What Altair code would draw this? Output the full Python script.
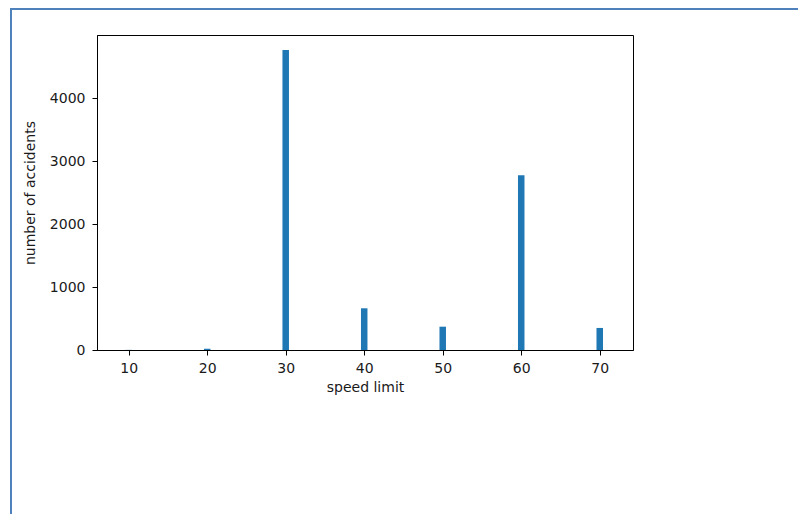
import altair as alt
import pandas as pd

speed_limits = [10, 20, 30, 40, 50, 60, 70]
accidents = [2, 20, 4760, 662, 370, 2773, 350]

x_ticks = [10, 20, 30, 40, 50, 60, 70]
y_ticks = [0, 1000, 2000, 3000, 4000]

df = pd.DataFrame({"speed": speed_limits, "count": accidents})

W, H = 536, 315
PAD = {"left": 89, "top": 27, "right": 165, "bottom": 164}

axis_common = dict(
    domainColor="#000000", tickColor="#000000", labelColor="#1a1a1a",
    titleColor="#1a1a1a", labelFont="DejaVu Sans", titleFont="DejaVu Sans",
    labelFontSize=14, titleFontSize=14, titleFontWeight="normal",
    tickSize=5, grid=False, domainWidth=1, format="d",
)

bars = alt.Chart(df).mark_bar(size=6.5, color="#1f77b4").encode(
    x=alt.X("speed:Q", scale=alt.Scale(domain=[6.6, 73.6], nice=False, zero=False),
            axis=alt.Axis(values=x_ticks, title="speed limit", labelPadding=6,
                          titlePadding=5, **axis_common)),
    y=alt.Y("count:Q", scale=alt.Scale(domain=[0, 5000], nice=False),
            axis=alt.Axis(values=y_ticks, title="number of accidents", labelPadding=7,
                          titlePadding=12, **axis_common)),
)

frame_df = pd.DataFrame({"k": [0]})
frame_color = "#4f81bd"
top_line = alt.Chart(frame_df).mark_rule(color=frame_color, strokeWidth=2).encode(
    x=alt.value(-86), x2=alt.value(W + PAD["right"]), y=alt.value(-26)
)
left_line = alt.Chart(frame_df).mark_rule(color=frame_color, strokeWidth=2).encode(
    x=alt.value(-86), y=alt.value(-27), y2=alt.value(H + PAD["bottom"])
)

chart = alt.layer(bars, top_line, left_line).properties(
    width=W, height=H, padding=PAD, autosize=alt.AutoSizeParams(type="none"),
    background="white",
).configure_view(stroke="#000000", strokeWidth=1)

chart.save("out.html", embed_options={"renderer": "svg", "actions": False})
